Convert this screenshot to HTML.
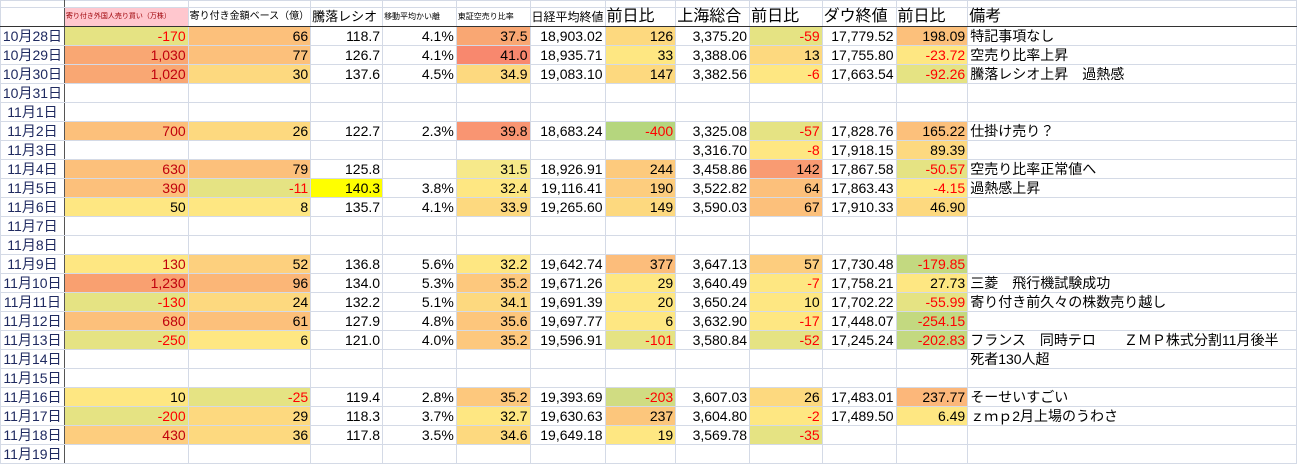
<!DOCTYPE html>
<html><head><meta charset="utf-8"><style>
html,body{margin:0;padding:0;background:#fff;width:1297px;height:466px;overflow:hidden}
table{border-collapse:collapse;table-layout:fixed;position:absolute;left:0;top:0;font-family:"Liberation Sans","Noto Sans CJK JP",sans-serif;font-size:14px;color:#000}
td{border:1px solid #d4dae6;height:18px;padding:0 2px;white-space:nowrap;overflow:visible;text-align:right;line-height:18px}
tr.top td{height:6px;line-height:6px}
tr.hd td{text-align:left;border-bottom:1px solid #333;padding:0 1px;vertical-align:middle}
td.d{border-right:1px solid #555;text-align:center;color:#1f2a60;padding:0}
td.m{text-align:left;overflow:visible}
.r{color:#f00}.dr{color:#c0000c}
.Y{background:#fee782}.YO{background:#fdd97f}.O{background:#fcc07b}.OR{background:#f9a773}.R{background:#f8886e}
.GY{background:#e5e383}.G{background:#c3d980}.LG{background:#b5d67e}.YY{background:#ffff00}.LY{background:#f6e98a}
</style></head><body>
<table>
<colgroup><col style="width:64px"><col style="width:124px"><col style="width:122px"><col style="width:72px"><col style="width:74px"><col style="width:74px"><col style="width:74px"><col style="width:71px"><col style="width:74px"><col style="width:73px"><col style="width:74px"><col style="width:72px"><col style="width:329px"></colgroup>
<tr class="top"><td class="d"></td><td></td><td></td><td></td><td></td><td></td><td></td><td></td><td></td><td></td><td></td><td></td><td></td></tr>
<tr class="hd"><td class="d"></td><td style="background:#ffc7ce;color:#9c0006;font-size:7px">寄り付き外国人売り買い（万株）</td><td style="font-size:10px">寄り付き金額ベース（億）</td><td style="font-size:13px">騰落レシオ</td><td style="font-size:8px">移動平均かい離</td><td style="font-size:8px">東証空売り比率</td><td style="font-size:12px">日経平均終値</td><td style="font-size:16px">前日比</td><td style="font-size:16px">上海総合</td><td style="font-size:16px">前日比</td><td style="font-size:16px">ダウ終値</td><td style="font-size:16px">前日比</td><td style="font-size:16px">備考</td></tr>
<tr><td class="d">10月28日</td><td class="GY r">-170</td><td class="O">66</td><td>118.7</td><td>4.1%</td><td class="OR">37.5</td><td>18,903.02</td><td class="YO">126</td><td>3,375.20</td><td class="GY r">-59</td><td>17,779.52</td><td class="O">198.09</td><td class="m">特記事項なし</td></tr>
<tr><td class="d">10月29日</td><td class="OR dr">1,030</td><td class="O">77</td><td>126.7</td><td>4.1%</td><td class="R">41.0</td><td>18,935.71</td><td class="Y">33</td><td>3,388.06</td><td class="YO">13</td><td>17,755.80</td><td class="Y r">-23.72</td><td class="m">空売り比率上昇</td></tr>
<tr><td class="d">10月30日</td><td class="OR dr">1,020</td><td class="YO">30</td><td>137.6</td><td>4.5%</td><td class="YO">34.9</td><td>19,083.10</td><td class="YO">147</td><td>3,382.56</td><td class="Y r">-6</td><td>17,663.54</td><td class="GY r">-92.26</td><td class="m">騰落レシオ上昇　過熱感</td></tr>
<tr><td class="d">10月31日</td><td></td><td></td><td></td><td></td><td></td><td></td><td></td><td></td><td></td><td></td><td></td><td></td></tr>
<tr><td class="d">11月1日</td><td></td><td></td><td></td><td></td><td></td><td></td><td></td><td></td><td></td><td></td><td></td><td></td></tr>
<tr><td class="d">11月2日</td><td class="O dr">700</td><td class="YO">26</td><td>122.7</td><td>2.3%</td><td class="R" style="background:#f99572">39.8</td><td>18,683.24</td><td class="LG r">-400</td><td>3,325.08</td><td class="GY r">-57</td><td>17,828.76</td><td class="O">165.22</td><td class="m">仕掛け売り？</td></tr>
<tr><td class="d">11月3日</td><td></td><td></td><td></td><td></td><td></td><td></td><td></td><td>3,316.70</td><td class="Y r">-8</td><td>17,918.15</td><td class="YO">89.39</td><td></td></tr>
<tr><td class="d">11月4日</td><td class="O dr">630</td><td class="O">79</td><td>125.8</td><td></td><td class="LY">31.5</td><td>18,926.91</td><td class="O" style="background:#fdca7d">244</td><td>3,458.86</td><td class="OR" style="background:#f99b72">142</td><td>17,867.58</td><td class="GY r">-50.57</td><td class="m">空売り比率正常値へ</td></tr>
<tr><td class="d">11月5日</td><td class="O dr">390</td><td class="GY r">-11</td><td class="YY">140.3</td><td>3.8%</td><td class="Y">32.4</td><td>19,116.41</td><td class="O" style="background:#fdcd7e">190</td><td>3,522.82</td><td class="O">64</td><td>17,863.43</td><td class="Y r">-4.15</td><td class="m">過熱感上昇</td></tr>
<tr><td class="d">11月6日</td><td class="Y">50</td><td class="Y">8</td><td>135.7</td><td>4.1%</td><td class="YO">33.9</td><td>19,265.60</td><td class="YO">149</td><td>3,590.03</td><td class="O">67</td><td>17,910.33</td><td class="YO">46.90</td><td></td></tr>
<tr><td class="d">11月7日</td><td></td><td></td><td></td><td></td><td></td><td></td><td></td><td></td><td></td><td></td><td></td><td></td></tr>
<tr><td class="d">11月8日</td><td></td><td></td><td></td><td></td><td></td><td></td><td></td><td></td><td></td><td></td><td></td><td></td></tr>
<tr><td class="d">11月9日</td><td class="Y dr">130</td><td class="YO" style="background:#fdd07e">52</td><td>136.8</td><td>5.6%</td><td class="Y">32.2</td><td>19,642.74</td><td class="O" style="background:#fcbd7b">377</td><td>3,647.13</td><td class="O" style="background:#fdcd7e">57</td><td>17,730.48</td><td class="G r">-179.85</td><td></td></tr>
<tr><td class="d">11月10日</td><td class="OR dr" style="background:#f9a070">1,230</td><td class="O" style="background:#fbb677">96</td><td>134.0</td><td>5.3%</td><td class="O" style="background:#fdc87d">35.2</td><td>19,671.26</td><td class="Y">29</td><td>3,640.49</td><td class="Y r">-7</td><td>17,758.21</td><td class="Y">27.73</td><td class="m">三菱　飛行機試験成功</td></tr>
<tr><td class="d">11月11日</td><td class="GY r">-130</td><td class="YO">24</td><td>132.2</td><td>5.1%</td><td class="YO">34.1</td><td>19,691.39</td><td class="Y">20</td><td>3,650.24</td><td class="Y">10</td><td>17,702.22</td><td class="GY r">-55.99</td><td class="m">寄り付き前久々の株数売り越し</td></tr>
<tr><td class="d">11月12日</td><td class="O dr">680</td><td class="O">61</td><td>127.9</td><td>4.8%</td><td class="O" style="background:#fdc67c">35.6</td><td>19,697.77</td><td class="Y">6</td><td>3,632.90</td><td class="Y r">-17</td><td>17,448.07</td><td class="G r">-254.15</td><td></td></tr>
<tr><td class="d">11月13日</td><td class="GY r">-250</td><td class="Y">6</td><td>121.0</td><td>4.0%</td><td class="O" style="background:#fdc87d">35.2</td><td>19,596.91</td><td class="GY r">-101</td><td>3,580.84</td><td class="GY r">-52</td><td>17,245.24</td><td class="G r">-202.83</td><td class="m">フランス　同時テロ　　ＺＭＰ株式分割11月後半</td></tr>
<tr><td class="d">11月14日</td><td></td><td></td><td></td><td></td><td></td><td></td><td></td><td></td><td></td><td></td><td></td><td class="m">死者130人超</td></tr>
<tr><td class="d">11月15日</td><td></td><td></td><td></td><td></td><td></td><td></td><td></td><td></td><td></td><td></td><td></td><td></td></tr>
<tr><td class="d">11月16日</td><td class="Y">10</td><td class="GY r">-25</td><td>119.4</td><td>2.8%</td><td class="O" style="background:#fdc87d">35.2</td><td>19,393.69</td><td class="G r" style="background:#d0dc82">-203</td><td>3,607.03</td><td class="YO">26</td><td>17,483.01</td><td class="O" style="background:#fcb77a">237.77</td><td class="m">そーせいすごい</td></tr>
<tr><td class="d">11月17日</td><td class="GY r">-200</td><td class="YO">29</td><td>118.3</td><td>3.7%</td><td class="Y">32.7</td><td>19,630.63</td><td class="O" style="background:#fcc67c">237</td><td>3,604.80</td><td class="Y r">-2</td><td>17,489.50</td><td class="Y">6.49</td><td class="m">ｚｍｐ2月上場のうわさ</td></tr>
<tr><td class="d">11月18日</td><td class="O dr" style="background:#fdcd7e">430</td><td class="YO">36</td><td>117.8</td><td>3.5%</td><td class="YO">34.6</td><td>19,649.18</td><td class="Y">19</td><td>3,569.78</td><td class="GY r">-35</td><td></td><td></td><td></td></tr>
<tr><td class="d">11月19日</td><td></td><td></td><td></td><td></td><td></td><td></td><td></td><td></td><td></td><td></td><td></td><td></td></tr>
</table>
</body></html>
